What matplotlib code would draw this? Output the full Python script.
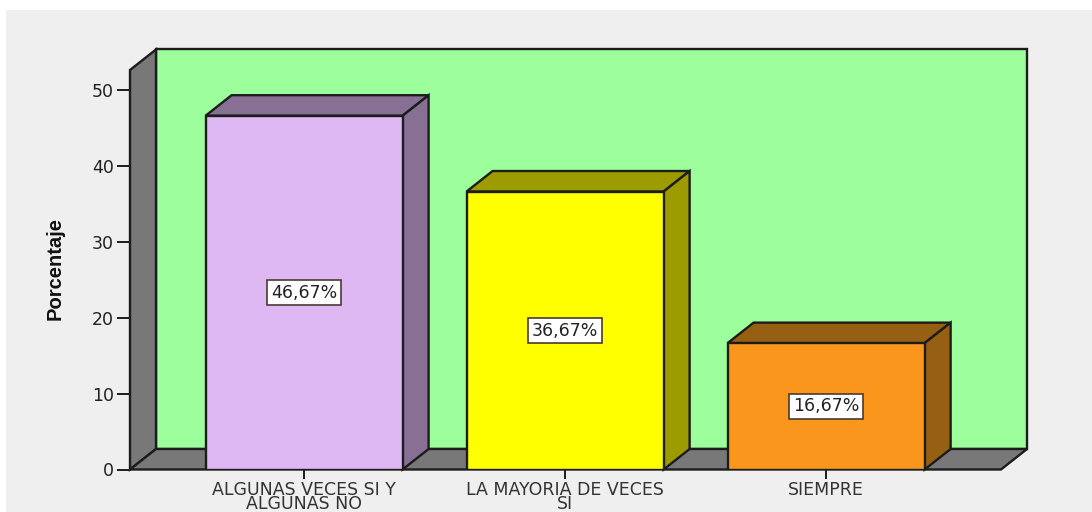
import matplotlib
matplotlib.use('Agg')
import matplotlib.pyplot as plt
from matplotlib.patches import Polygon, Rectangle

categories = ['ALGUNAS VECES SI Y\nALGUNAS NO', 'LA MAYORIA DE VECES\nSI', 'SIEMPRE']
values = [46.67, 36.67, 16.67]
labels = ['46,67%', '36,67%', '16,67%']
front_colors = ['#DDB8F2', '#FFFF00', '#FA961C']
side_colors = ['#877093', '#9C9C00', '#975F12']
yticks = [0, 10, 20, 30, 40, 50]

plt.rcParams['font.family'] = ['DejaVu Sans']

W, H = 1092, 512
fig = plt.figure(figsize=(W / 100, H / 100), dpi=100, facecolor='white')
fig.add_artist(Rectangle((6 / W, 0), (W - 6) / W, (H - 10) / H, transform=fig.transFigure,
                         facecolor='#EFEFEF', edgecolor='none', zorder=-1))

ax = fig.add_axes([130 / W, 1 - 469.5 / H, 871 / W, 399.5 / H])
ax.patch.set_visible(False)
ax.set_xlim(-0.667, 2.67)
ax.set_ylim(0, 52.7)

# depth of the fake 3D box, in data units
dx = 26 / 261
dy = 20.5 / 7.58
x0, x1 = ax.get_xlim()
y1 = ax.get_ylim()[1]
lw = 1.7
edge = '#1c1c1c'


def poly(pts, color, z):
    ax.add_patch(Polygon(pts, closed=True, facecolor=color, edgecolor=edge, linewidth=lw,
                         joinstyle='miter', zorder=z, clip_on=False))


# walls
poly([(x0 + dx, dy), (x1 + dx, dy), (x1 + dx, y1 + dy), (x0 + dx, y1 + dy)], '#9CFF9C', 1)
poly([(x0, 0), (x0 + dx, dy), (x0 + dx, y1 + dy), (x0, y1)], '#787878', 2)
poly([(x0, 0), (x1, 0), (x1 + dx, dy), (x0 + dx, dy)], '#787878', 2)

# bars
bw = 197 / 261
for i, v in enumerate(values):
    l, r = i - bw / 2, i + bw / 2
    poly([(l, v), (r, v), (r + dx, v + dy), (l + dx, v + dy)], side_colors[i], 3)
    poly([(r, 0), (r + dx, dy), (r + dx, v + dy), (r, v)], side_colors[i], 3)
    ax.bar(i, v, width=bw, color=front_colors[i], edgecolor=edge, linewidth=lw, zorder=4)
    ax.text(i, v / 2, labels[i], ha='center', va='center', fontsize=12.5, color='#222222', zorder=5,
            bbox=dict(facecolor='white', edgecolor='#4a3a30', linewidth=1.2, boxstyle='square,pad=0.2'))

for s in ['top', 'right', 'bottom', 'left']:
    ax.spines[s].set_visible(False)

ax.set_xticks(range(len(categories)))
ax.set_xticklabels(categories, fontsize=12.5, color='#333333', linespacing=0.72)
ax.set_yticks(yticks)
ax.tick_params(axis='y', length=9.5, width=1.4, color=edge, labelsize=12.5, labelcolor='#222222', pad=2)
ax.tick_params(axis='x', length=6.5, width=1.4, color=edge, pad=2)

fig.text(55 / W, 1 - 269 / H, 'Porcentaje', rotation=90, ha='center', va='center', fontsize=14.5,
         fontweight='bold', family=['Liberation Sans'], color='#111111')

fig.savefig('out.png', dpi=100)
